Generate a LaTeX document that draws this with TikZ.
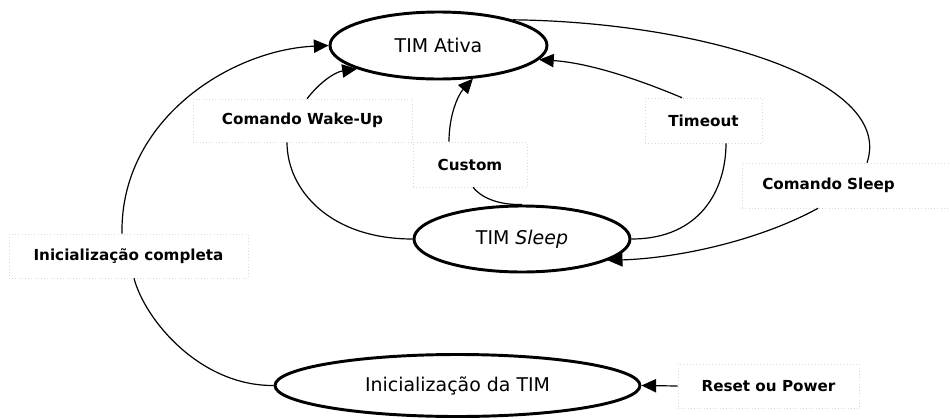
\documentclass[tikz,border=0pt]{standalone}
\usepackage{fontspec}
\setmainfont{DejaVu Sans}
\usetikzlibrary{shapes.geometric,arrows.meta,calc}
\begin{document}
\begin{tikzpicture}[x=0.75pt,y=-0.75pt,
  state/.style={ellipse,draw,line width=2.2pt,inner sep=0pt,font=\fontsize{14.2}{16}\selectfont},
  lbl/.style={rectangle,draw=black!15,dotted,fill=white,inner sep=0pt,font=\bfseries\fontsize{11.4}{13}\selectfont},
  edge/.style={line width=0.9pt},
  arr/.style={edge,-{Triangle[length=11pt,width=10pt]}}]
\useasboundingbox (0,0) rectangle (950,418);
% states
\node[state,minimum width=162.75pt,minimum height=50.25pt] (ativa) at (438.5,45.5) {TIM Ativa};
\node[state,minimum width=162pt,minimum height=49.5pt] (sleep) at (522,239) {TIM \textit{Sleep}};
\node[state,minimum width=273.75pt,minimum height=46.5pt] (init) at (457.5,385.5) {Inicialização da TIM};
% labels
\node[lbl,minimum width=164pt,minimum height=32.25pt] (wake) at (302.5,120.5) {Comando Wake-Up};
\node[lbl,minimum width=85.5pt,minimum height=33.75pt] (custom) at (470,164.5) {Custom};
\node[lbl,minimum width=87.75pt,minimum height=33.75pt] (timeout) at (703.5,120.5) {Timeout};
\node[lbl,anchor=west,inner xsep=15pt,text width=133.5pt,align=left,minimum height=33.75pt] (csleep) at (742,185.5) {Comando Sleep};
\node[lbl,minimum width=179.25pt,minimum height=33pt] (icompl) at (128.5,256) {Inicialização completa};
\node[lbl,minimum width=135.75pt,minimum height=33pt] (reset) at (768.5,386) {Reset ou Power};
% Inicialização completa
\draw[edge] (init.west) .. controls (200,386) and (145,320) .. ($(icompl.south)+(5.5,0)$);
\draw[arr] ($(icompl.north)+(-6.5,0)$) .. controls (120,120) and (230,50) .. (ativa.west);
% Comando Wake-Up
\draw[edge] (sleep.west) .. controls (330,239) and (287,190) .. ($(wake.south)+(-15.5,0)$);
\draw[arr] ($(wake.north)+(4.5,0)$) .. controls (320,82) and (335,72) .. (ativa.196);
% Custom
\draw[edge] (sleep.north) .. controls (495,205) and (480,196) .. ($(custom.south)+(3,0)$);
\draw[arr] ($(custom.north)+(-21,0)$) .. controls (449,115) and (458,95) .. (ativa.-44);
% Timeout
\draw[edge] (sleep.east) .. controls (700,239) and (726,190) .. ($(timeout.south)+(22.5,0)$);
\draw[arr] ($(timeout.north)+(-21.5,0)$) .. controls (640,80) and (590,63) .. (ativa.-8);
% Comando Sleep
\draw[edge] (ativa.19) .. controls (700,22) and (895,80) .. ($(csleep.north west)+(125,0)$);
\draw[arr] ($(csleep.south west)+(76,0)$) .. controls (760,240) and (680,258) .. (sleep.-14);
% Reset
\draw[arr] (reset.west) -- (init.east);
\end{tikzpicture}
\end{document}
